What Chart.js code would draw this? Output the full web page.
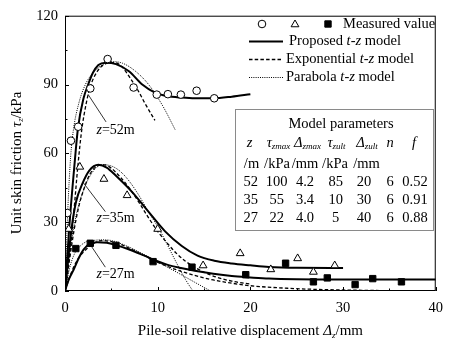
<!DOCTYPE html>
<html>
<head>
<meta charset="utf-8">
<script src="https://cdn.jsdelivr.net/npm/chart.js@4.4.0/dist/chart.umd.min.js"></script>
<style>
  html, body { margin: 0; padding: 0; background: #fff; }
</style>
</head>
<body>
<canvas id="c" width="451" height="345"></canvas>
<script>
const xTicks = [0, 10, 20, 30, 40];
const yTicks = [0, 30, 60, 90, 120];
const xMinor = [5, 15, 25, 35];
const yMinor = [15, 45, 75, 105];

// measured values
const circ52x = [0.25, 0.64, 1.42, 2.73, 4.6, 7.4, 9.9, 11.1, 12.5, 14.2, 16.1];
const circ52y = [34, 65.5, 71.6, 88.3, 101.1, 88.7, 85.6, 85.8, 85.6, 87.3, 84.0];
const tri35x = [0.4, 1.6, 4.2, 6.7, 10.0, 14.9, 18.9, 22.2, 25.1, 26.8, 29.1];
const tri35y = [27, 54.1, 48.8, 41.7, 27.0, 11.1, 16.4, 9.4, 14.2, 8.3, 11.1];
const sq27x = [1.17, 2.73, 5.5, 9.5, 13.7, 19.5, 23.8, 26.8, 28.3, 31.3, 33.2, 36.3];
const sq27y = [18.5, 20.8, 19.9, 12.8, 10.4, 7.1, 12.1, 4.0, 5.7, 2.8, 5.4, 4.0];

// proposed t-z model (solid)
const prop52x = [0, 0.5, 1.0, 1.4, 2.0, 2.5, 3.0, 3.6, 4.4, 5.5, 6.9, 8.3, 9.7, 11, 12.6, 14, 16, 18, 20];
const prop52y = [0, 30, 54, 71, 84, 90, 95, 98.5, 99.5, 98.9, 95.8, 90.1, 86.5, 85, 84.3, 84, 84, 84.7, 85.8];
const prop35x = [0, 0.3, 0.7, 1.2, 1.9, 2.6, 3.6, 4.5, 5.5, 7.25, 9, 10.8, 12.6, 14.3, 16.1, 18, 20, 22, 25, 30];
const prop35y = [0, 12, 27, 39, 47, 52.4, 55, 53.8, 50.2, 43.1, 34.6, 26, 19.6, 15.4, 13.2, 12, 11.2, 10.5, 10.1, 10];
const prop27x = [0, 0.4, 0.9, 1.5, 2, 2.65, 3.5, 4.5, 5.5, 7, 8.5, 9.7, 11, 12.5, 14, 16, 18, 20, 22, 25, 30, 35, 40];
const prop27y = [0, 5, 9, 14.5, 18, 20.5, 21.2, 21, 20, 18, 15.5, 13.4, 11.5, 10, 8.8, 7.5, 6.5, 5.9, 5.4, 5.1, 5, 5, 5];

// exponential t-z model (dashed)
const exp52x = [0, 0.4, 0.9, 1.4, 1.8, 2.3, 2.7, 3.5, 4.6, 5.4, 6.2, 7.0, 7.8, 8.6, 9.7];
const exp52y = [0, 12, 32, 55, 70, 82, 88.7, 95.8, 99.3, 99.5, 97.5, 93, 88, 82, 74.4];
const exp35x = [0, 0.5, 1, 1.5, 2, 2.7, 3.5, 4.3, 5, 6, 7, 8, 9, 10, 11, 12, 13, 14, 16, 18, 20];
const exp35y = [0, 14, 27, 37, 44, 51, 54.5, 55, 53.5, 49.5, 44.5, 38.5, 32, 26, 21, 16.5, 13, 10.3, 6.5, 4.3, 3.0];
const exp27x = [0, 0.5, 1, 1.5, 2, 3, 4, 5, 6, 7, 8, 9, 10, 12, 14, 16, 18, 20, 24, 28, 32, 36, 40];
const exp27y = [0, 6, 11, 14.5, 17, 20.5, 22, 21.5, 20.3, 18.5, 16.5, 14.5, 12.5, 9.3, 6.8, 4.8, 3.4, 2.3, 1.2, 0.6, 0.3, 0.1, 0];

// parabola t-z model (dotted)
const par52x = [0, 0.3, 0.6, 0.9, 1.5, 2.2, 3.0, 4.0, 5.0, 6.2, 7.6, 9.0, 10.5, 11.9];
const par52y = [0, 35, 58, 70, 82, 90, 95, 98.5, 100, 99.3, 95.8, 90.1, 81, 70.2];
const par35x = [0, 0.3, 0.7, 1.2, 2, 3, 4, 5, 6, 7, 8, 9, 10.1, 11, 12, 13, 13.8];
const par35y = [0, 10, 22, 33, 44, 52, 55, 54.5, 52, 47.5, 41.5, 34.5, 27.4, 20.5, 12.5, 5, 0];
const par27x = [0, 0.5, 1, 1.5, 2.3, 3, 4, 5, 5.8, 7, 8, 9.4, 11, 12.5, 14, 15.7];
const par27y = [0, 10, 16, 19, 21.5, 22, 22.3, 22, 21, 19, 17, 14, 10.5, 7.2, 3.8, 0];

// depth labels: text, leader start, leader end, text anchor (data units)
const depthLabels = [
  { d: '52', from: [2.47, 85.8], to: [4.43, 73.7], at: [3.4, 70] },
  { d: '35', from: [1.94, 47.4], to: [4.35, 34.6], at: [3.4, 31.6] },
  { d: '27', from: [2.83, 19.6], to: [4.35, 10.4], at: [3.4, 7.4] }
];

// model parameter table
const tableDepth = ['52', '35', '27'];
const tableTauMax = ['100', '55', '22'];
const tableDMax = ['4.2', '3.4', '4.0'];
const tableTauUlt = ['85', '10', '5'];
const tableDUlt = ['20', '30', '40'];
const tableN = ['6', '6', '6'];
const tableF = ['0.52', '0.91', '0.88'];

const FONT = '"Liberation Serif", "Times New Roman", serif';
const BASE = 14.5;
const SUB = 9;

function pts(xs, ys) {
  return xs.map((x, i) => ({ x: x, y: ys[i] }));
}

function curve(xs, ys, dash, width) {
  return {
    data: pts(xs, ys),
    showLine: true,
    borderColor: '#000',
    borderWidth: width,
    borderDash: dash,
    pointRadius: 0,
    cubicInterpolationMode: 'monotone',
    order: 2
  };
}

function marks(xs, ys, style, r, fill) {
  return {
    data: pts(xs, ys),
    showLine: false,
    pointStyle: style,
    pointRadius: r,
    pointBackgroundColor: fill,
    pointBorderColor: '#000',
    pointBorderWidth: 1,
    order: 0
  };
}

function setFont(ctx, size, italic) {
  ctx.font = (italic ? 'italic ' : '') + size + 'px ' + FONT;
}

// parts: [text, italic, subscript]
function rich(ctx, parts, x, y, align, size) {
  size = size || BASE;
  let w = 0;
  parts.forEach(p => {
    setFont(ctx, p[2] ? SUB : size, p[1]);
    w += ctx.measureText(p[0]).width;
  });
  let cx = align === 'center' ? x - w / 2 : (align === 'right' ? x - w : x);
  ctx.textAlign = 'left';
  ctx.textBaseline = 'middle';
  parts.forEach(p => {
    setFont(ctx, p[2] ? SUB : size, p[1]);
    ctx.fillText(p[0], cx, y + (p[2] ? 4 : 0));
    cx += ctx.measureText(p[0]).width;
  });
}

const deco = {
  id: 'deco',
  afterDraw(chart) {
    const { ctx, chartArea: a, scales: { x, y } } = chart;
    ctx.save();
    ctx.fillStyle = '#000';
    ctx.strokeStyle = '#000';

    // frame
    ctx.lineWidth = 1;
    ctx.setLineDash([]);
    ctx.strokeRect(a.left + 0.5, a.top + 0.5, a.right - a.left - 1, a.bottom - a.top - 1);

    // inward ticks
    ctx.beginPath();
    xTicks.forEach(v => { const px = Math.round(x.getPixelForValue(v)) + 0.5; ctx.moveTo(px, a.bottom); ctx.lineTo(px, a.bottom - 4); });
    xMinor.forEach(v => { const px = Math.round(x.getPixelForValue(v)) + 0.5; ctx.moveTo(px, a.bottom); ctx.lineTo(px, a.bottom - 2.5); });
    yTicks.forEach(v => { const py = Math.round(y.getPixelForValue(v)) + 0.5; ctx.moveTo(a.left, py); ctx.lineTo(a.left + 4, py); });
    yMinor.forEach(v => { const py = Math.round(y.getPixelForValue(v)) + 0.5; ctx.moveTo(a.left, py); ctx.lineTo(a.left + 2.5, py); });
    ctx.stroke();

    // axis titles
    rich(ctx, [['Pile-soil relative displacement '], ['Δ', true], ['z', true, true], ['/mm']],
      (a.left + a.right) / 2, 331.5, 'center', 15);
    ctx.save();
    ctx.translate(17, 163);
    ctx.rotate(-Math.PI / 2);
    rich(ctx, [['Unit skin friction '], ['τ', true], ['z', true, true], ['/kPa']], 0, 0, 'center', 15);
    ctx.restore();

    // depth labels with leader lines
    ctx.lineWidth = 0.8;
    depthLabels.forEach(l => {
      ctx.beginPath();
      ctx.moveTo(x.getPixelForValue(l.from[0]), y.getPixelForValue(l.from[1]));
      ctx.lineTo(x.getPixelForValue(l.to[0]), y.getPixelForValue(l.to[1]));
      ctx.stroke();
      rich(ctx, [['z', true], ['=' + l.d + 'm']], x.getPixelForValue(l.at[0]), y.getPixelForValue(l.at[1]), 'left', 14);
    });

    // legend
    const H = Chart.helpers;
    ctx.lineWidth = 1;
    ctx.fillStyle = '#fff';
    H.drawPoint(ctx, { pointStyle: 'circle', radius: 3.8, borderWidth: 1 }, 262, 24);
    H.drawPoint(ctx, { pointStyle: 'triangle', radius: 4.5, borderWidth: 1 }, 295, 24.5);
    ctx.fillStyle = '#000';
    H.drawPoint(ctx, { pointStyle: 'rect', radius: 4.5, borderWidth: 1 }, 328, 24);
    rich(ctx, [['Measured value']], 343, 24, 'left');

    const legendRows = [
      { y: 41.5, dash: [], w: 2, tx: 289, name: 'Proposed ' },
      { y: 59.5, dash: [3.5, 2.2], w: 1.3, tx: 286, name: 'Exponential ' },
      { y: 77.5, dash: [1, 1.2], w: 1, tx: 286, name: 'Parabola ' }
    ];
    legendRows.forEach(r => {
      ctx.lineWidth = r.w;
      ctx.setLineDash(r.dash);
      ctx.beginPath();
      ctx.moveTo(249, r.y);
      ctx.lineTo(283, r.y);
      ctx.stroke();
      ctx.setLineDash([]);
      rich(ctx, [[r.name], ['t-z', true], [' model']], r.tx, r.y, 'left');
    });

    // parameter table
    ctx.lineWidth = 1;
    ctx.strokeStyle = '#8a8a8a';
    ctx.strokeRect(235.5, 109.5, 198, 121);
    ctx.fillStyle = '#000';
    rich(ctx, [['Model parameters']], 341, 124, 'center');
    const hy = 143;
    rich(ctx, [['z', true]], 249.5, hy, 'center');
    rich(ctx, [['τ', true], ['zmax', true, true]], 278.5, hy, 'center');
    rich(ctx, [['Δ', true], ['zmax', true, true]], 307.5, hy, 'center');
    rich(ctx, [['τ', true], ['zult', true, true]], 336.5, hy, 'center');
    rich(ctx, [['Δ', true], ['zult', true, true]], 367, hy, 'center');
    rich(ctx, [['n', true]], 390, hy, 'center');
    rich(ctx, [['f', true]], 414, hy, 'center');
    const uy = 164.5;
    rich(ctx, [['/m']], 251.5, uy, 'center');
    rich(ctx, [['/kPa']], 277, uy, 'center');
    rich(ctx, [['/mm']], 305, uy, 'center');
    rich(ctx, [['/kPa']], 335, uy, 'center');
    rich(ctx, [['/mm']], 366.5, uy, 'center');
    const cols = [
      [tableDepth, 250.7], [tableTauMax, 276.7], [tableDMax, 305], [tableTauUlt, 335.7],
      [tableDUlt, 364], [tableN, 390], [tableF, 415]
    ];
    [182.5, 200.5, 218.5].forEach((ry, i) => {
      cols.forEach(c => rich(ctx, [[c[0][i]]], c[1], ry, 'center'));
    });

    ctx.restore();
  }
};

new Chart(document.getElementById('c'), {
  type: 'scatter',
  data: {
    datasets: [
      marks(circ52x, circ52y, 'circle', 3.8, '#fff'),
      marks(tri35x, tri35y, 'triangle', 4.5, '#fff'),
      marks(sq27x, sq27y, 'rect', 4.5, '#000'),
      curve(prop52x, prop52y, [], 2),
      curve(prop35x, prop35y, [], 2),
      curve(prop27x, prop27y, [], 2),
      curve(exp52x, exp52y, [3.5, 2.2], 1.3),
      curve(exp35x, exp35y, [3.5, 2.2], 1.3),
      curve(exp27x, exp27y, [3.5, 2.2], 1.3),
      curve(par52x, par52y, [1, 1.2], 1),
      curve(par35x, par35y, [1, 1.2], 1),
      curve(par27x, par27y, [1, 1.2], 1)
    ]
  },
  options: {
    responsive: false,
    animation: false,
    events: [],
    layout: { padding: { top: 10, right: 9, left: 0, bottom: 0 } },
    plugins: { legend: { display: false }, tooltip: { enabled: false } },
    scales: {
      x: {
        type: 'linear',
        min: 0,
        max: 40,
        afterBuildTicks: s => { s.ticks = xTicks.map(v => ({ value: v })); },
        afterFit: s => { s.height = 54; },
        grid: { display: false, drawTicks: false },
        border: { display: false },
        ticks: { color: '#000', padding: 8, font: { family: FONT, size: BASE } }
      },
      y: {
        type: 'linear',
        min: 0,
        max: 120,
        afterBuildTicks: s => { s.ticks = yTicks.map(v => ({ value: v })); },
        afterFit: s => { s.width = 65; },
        grid: { display: false, drawTicks: false },
        border: { display: false },
        ticks: { color: '#000', padding: 7, font: { family: FONT, size: BASE } }
      }
    }
  },
  plugins: [deco]
});
</script>
</body>
</html>
